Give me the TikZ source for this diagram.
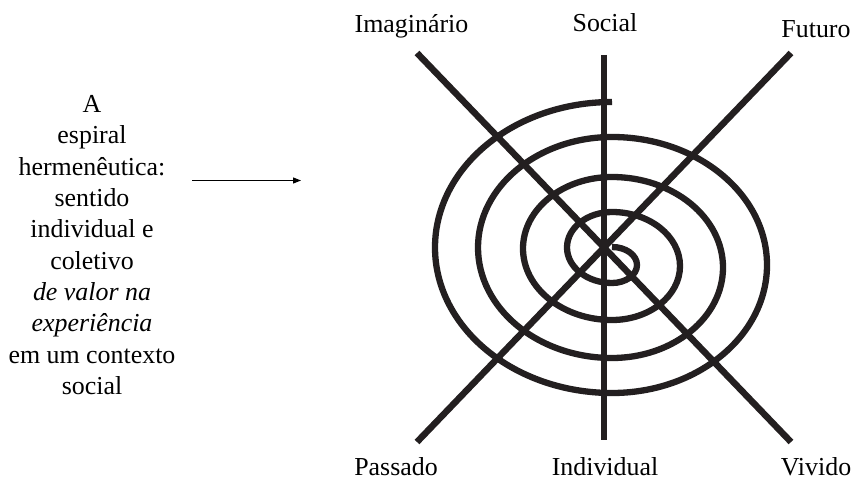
\documentclass[tikz,border=0pt]{standalone}
\usepackage{fontspec}
\setmainfont{Liberation Serif}
\usetikzlibrary{arrows.meta}
\definecolor{ink}{HTML}{231F20}
\begin{document}
\begin{tikzpicture}[x=1bp,y=-1bp,
  thick line/.style={draw=ink,line width=6.5bp},
  spiralline/.style={draw=ink,line width=6.3bp},
  lbl/.style={inner sep=0pt,anchor=base,font=\fontsize{26}{31.5}\selectfont},
  pointer/.style={draw=black,line width=1.2bp,-{Triangle[length=8bp,width=6bp]}}]
\useasboundingbox (0,0) rectangle (854,479);
% axes
\coordinate (imgEnd) at (417,53);
\coordinate (vivEnd) at (791,442);
\coordinate (futEnd) at (791,53);
\coordinate (pasEnd) at (417,442);
\coordinate (socEnd) at (604,55);
\coordinate (indEnd) at (604,440);
\draw[thick line] (imgEnd) -- (vivEnd);
\draw[thick line] (futEnd) -- (pasEnd);
\draw[thick line] (socEnd) -- (indEnd);
% spiral
\draw[spiralline] (612,247)
 arc[start angle=-90,end angle=90,x radius=25,y radius=18]
 arc[start angle=90,end angle=270,x radius=45,y radius=35.5]
 arc[start angle=-90,end angle=90,x radius=68,y radius=54]
 arc[start angle=90,end angle=270,x radius=89,y radius=71.5]
 arc[start angle=-90,end angle=90,x radius=111,y radius=90.5]
 arc[start angle=90,end angle=270,x radius=134,y radius=110.5]
 arc[start angle=-90,end angle=90,x radius=155,y radius=128]
 arc[start angle=90,end angle=270,x radius=177,y radius=145.5];
% labels
\node[lbl] (imag) at (411.5,33) {Imaginário};
\node[lbl] (soc) at (605,32) {Social};
\node[lbl] (fut) at (816,38) {Futuro};
\node[lbl] (pas) at (396,475) {Passado};
\node[lbl] (ind) at (605,475) {Individual};
\node[lbl] (viv) at (816,475) {Vivido};
% left text
\node[inner sep=0pt,anchor=north,align=center,font=\fontsize{26}{31.5}\selectfont] (desc) at (92,95)
 {A\\espiral\\hermenêutica:\\sentido\\individual e\\coletivo\\\textit{de valor na}\\\textit{experiência}\\em um contexto\\social};
\coordinate (arrS) at (192,180.5);
\coordinate (arrE) at (301,180.5);
\draw[pointer] (arrS) -- (arrE);
\end{tikzpicture}
\end{document}
